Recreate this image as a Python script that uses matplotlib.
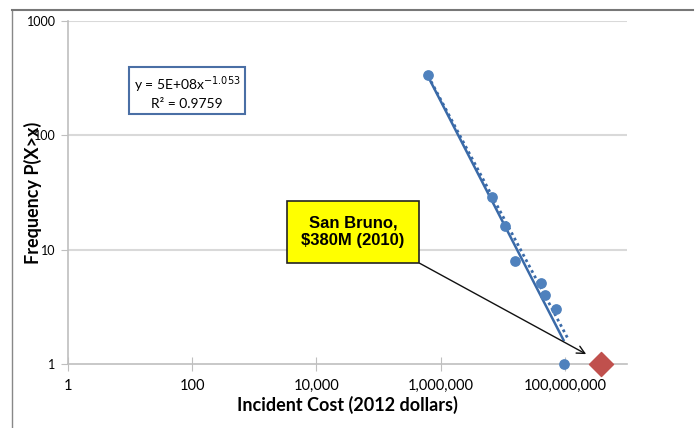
import matplotlib
matplotlib.use("Agg")
import matplotlib.pyplot as plt
from matplotlib.lines import Line2D
from matplotlib.ticker import FixedLocator, NullLocator

## Data
cost = [6.3e5, 6.7e6, 1.07e7, 1.59e7, 4.2e7, 4.8e7, 7.2e7, 9.5e7]
freq = [338, 29, 16.2, 8.0, 5.1, 4.0, 3.0, 1]
san_bruno_cost = [3.8e8]
san_bruno_freq = [1]

# hand drawn fit line (solid) and Excel power trendline (dotted), as drawn
line_x = [6.3e5, 9.5e7]
line_y = [325, 1.62]
trend_x = [6.3e5, 1.15e8]
trend_y = [330, 1.62]
equation = 'y = 5E+08x$^{-1.053}$'
r2 = 0.9759

x_ticks = [1, 100, 1e4, 1e6, 1e8]
x_ticklabels = ['1', '100', '10,000', '1,000,000', '100,000,000']
y_ticks = [1, 10, 100, 1000]
y_ticklabels = ['1', '10', '100', '1000']

plt.rcParams['font.family'] = ['Liberation Sans', 'DejaVu Sans']

fig = plt.figure(figsize=(6.97, 4.28), dpi=100)
ax = fig.add_axes([68 / 697, 1 - 364 / 428, (627 - 68) / 697, (364 - 21) / 428])

ax.set_xscale('log')
ax.set_yscale('log')
ax.set_xlim(1, 1e9)
ax.set_ylim(1, 1000)

# gridlines
for yv in [10, 100, 1000]:
    ax.axhline(yv, color='#d9d9d9', lw=1.5, zorder=0)

# lines
ax.plot(line_x, line_y, color='#3a6aa8', lw=1.8, zorder=2)
ax.plot(trend_x, trend_y, color='#3a6aa8', lw=2, ls=(0, (1, 1.2)), zorder=2)

# points
ax.scatter(cost, freq, s=45, color='#4f81bd', zorder=3, clip_on=False)
ax.scatter(san_bruno_cost, san_bruno_freq, s=150, marker='D', color='#c0504d',
           zorder=4, clip_on=False)

# axes styling
for s in ['top', 'right']:
    ax.spines[s].set_visible(False)
for s in ['left', 'bottom']:
    ax.spines[s].set_color('#bfbfbf')
    ax.spines[s].set_linewidth(1.2)
ax.xaxis.set_major_locator(FixedLocator(x_ticks))
ax.xaxis.set_minor_locator(NullLocator())
ax.yaxis.set_major_locator(FixedLocator(y_ticks))
ax.yaxis.set_minor_locator(NullLocator())
ax.set_xticklabels(x_ticklabels, fontsize=10.5, family='Lato')
ax.set_yticklabels(y_ticklabels, fontsize=9, family='Lato')
ax.tick_params(axis='x', direction='inout', length=10, color='#bfbfbf', pad=6)
ax.tick_params(axis='y', direction='out', length=5, color='#bfbfbf', pad=4)

ax.set_xlabel('Incident Cost (2012 dollars)', fontsize=13, fontweight='bold',
              family='Lato', labelpad=2)
ax.set_ylabel('Frequency P(X>x)', fontsize=13, fontweight='bold', family='Lato',
              va='center')
ax.yaxis.set_label_coords(-35 / 559, 0.5)

# equation box
ax.text(187 / 697, 1 - 92 / 428,
        '%s\nR² = %s' % (equation, r2),
        transform=fig.transFigure, ha='center', va='center', fontsize=10,
        family='Lato', linespacing=1.25,
        bbox=dict(boxstyle='square,pad=0.3', fc='white', ec='#4a6fa5', lw=1.5))

# San Bruno annotation
ax.annotate('San Bruno,\n$380M (2010)', xy=(2.2e8, 1.22), xytext=(3.9e4, 14.3),
            textcoords='data', ha='center', va='center', fontsize=12,
            fontweight='bold', linespacing=1.25,
            bbox=dict(boxstyle='square,pad=0.85', fc='#ffff00', ec='#222222', lw=1.2),
            arrowprops=dict(arrowstyle='->', color='#111111', lw=1,
                            mutation_scale=14, shrinkA=0, shrinkB=0,
                            relpos=(0.88, 0.0)))

# outer chart border
fx = 12 / 697
fy = 1 - 10 / 428
fig.add_artist(Line2D([fx, fx], [0, fy], color='#888888', lw=1))
fig.add_artist(Line2D([fx, 693 / 697], [fy, fy], color='#777777', lw=1.5))

fig.savefig('out.png', dpi=100)
